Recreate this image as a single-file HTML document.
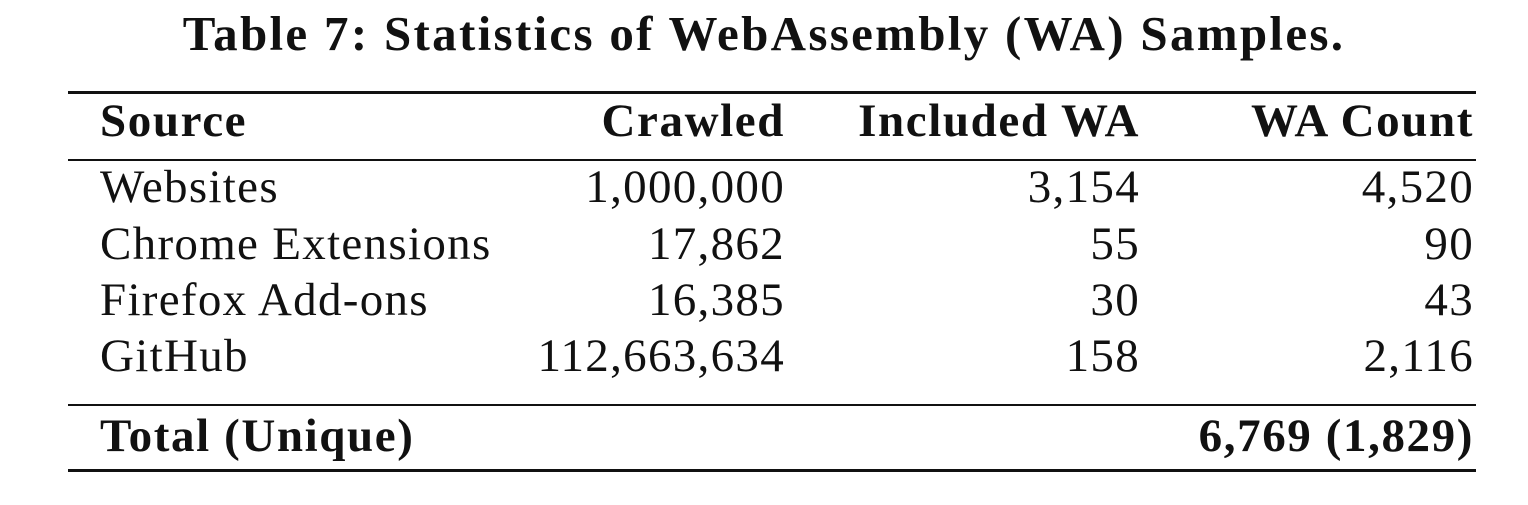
<!DOCTYPE html>
<html><head><meta charset="utf-8"><style>
html,body{margin:0;padding:0;background:#fff;}
body{width:1528px;height:505px;position:relative;overflow:hidden;font-family:"Liberation Serif",serif;color:#111;}
.t{position:absolute;font-size:47px;line-height:48px;white-space:nowrap;letter-spacing:1.3px;}
.b{font-weight:bold;letter-spacing:1.6px;}
.r{text-align:right;}
.rule{position:absolute;left:68px;width:1408px;background:#111;}
</style></head><body>
<div class="t b" style="left:0;width:1528px;text-align:center;top:9px;font-size:49px;line-height:50px;letter-spacing:2.3px;">Table 7: Statistics of WebAssembly (WA) Samples.</div>
<div class="rule" style="top:91px;height:3px;"></div>
<div class="rule" style="top:159px;height:2px;"></div>
<div class="rule" style="top:404px;height:2px;"></div>
<div class="rule" style="top:469px;height:3px;"></div>

<div>
<div class="t b" style="left:100px;top:97px;">Source</div>
<div class="t b r" style="right:743px;top:97px;">Crawled</div>
<div class="t b r" style="right:388px;top:97px;">Included WA</div>
<div class="t b r" style="right:54px;top:97px;">WA Count</div>
</div>

<div>
<div class="t" style="left:100px;top:163px;">Websites</div>
<div class="t r" style="right:743px;top:163px;">1,000,000</div>
<div class="t r" style="right:388px;top:163px;">3,154</div>
<div class="t r" style="right:54px;top:163px;">4,520</div>
</div>
<div>
<div class="t" style="left:100px;top:220px;">Chrome Extensions</div>
<div class="t r" style="right:743px;top:220px;">17,862</div>
<div class="t r" style="right:388px;top:220px;">55</div>
<div class="t r" style="right:54px;top:220px;">90</div>
</div>
<div>
<div class="t" style="left:100px;top:276px;">Firefox Add-ons</div>
<div class="t r" style="right:743px;top:276px;">16,385</div>
<div class="t r" style="right:388px;top:276px;">30</div>
<div class="t r" style="right:54px;top:276px;">43</div>
</div>
<div>
<div class="t" style="left:100px;top:332px;">GitHub</div>
<div class="t r" style="right:743px;top:332px;">112,663,634</div>
<div class="t r" style="right:388px;top:332px;">158</div>
<div class="t r" style="right:54px;top:332px;">2,116</div>
</div>
<div>
<div class="t b" style="left:100px;top:412px;">Total (Unique)</div>
<div class="t b r" style="right:54px;top:412px;">6,769 (1,829)</div>
</div>
</body></html>
